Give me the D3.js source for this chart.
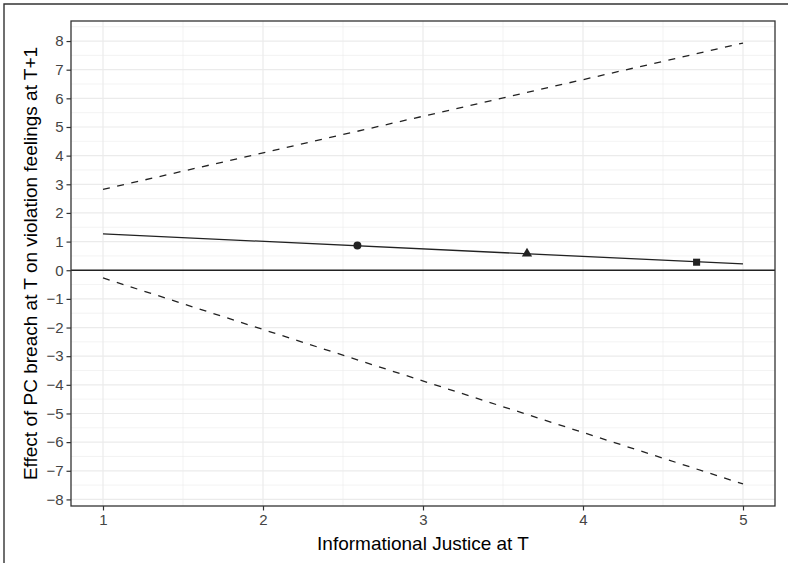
<!DOCTYPE html>
<html>
<head>
<meta charset="utf-8">
<script src="https://cdn.jsdelivr.net/npm/d3@7"></script>
<style>
  body { margin: 0; background: #fff; }
  svg { display: block; font-family: "Liberation Sans", Arial, Helvetica, sans-serif; }
</style>
</head>
<body>
<div id="chart"></div>
<script>
// Values
const justice = [1, 5];
const estimate = [1.27, 0.22];
const upperCI = [2.82, 7.93];
const lowerCI = [-0.27, -7.46];

const pointX = [2.59, 3.65, 4.71];
const pointY = [0.86, 0.58, 0.28];
const pointShape = ["circle", "triangle", "square"];

const xTicks = [1, 2, 3, 4, 5];
const yTicks = [-8, -7, -6, -5, -4, -3, -2, -1, 0, 1, 2, 3, 4, 5, 6, 7, 8];

const width = 788, height = 563;
const panel = { left: 71, top: 21, right: 775, bottom: 506 };

const svg = d3.select("#chart").append("svg")
    .attr("width", width)
    .attr("height", height);

// outer figure border (cropped on right and bottom)
svg.append("path")
    .attr("d", `M4,${height} L4,4 L${width},4`)
    .attr("fill", "none")
    .attr("stroke", "#333")
    .attr("stroke-width", 1.4);

// ggplot-like 5% expansion
const yMin = d3.min(lowerCI), yMax = d3.max(upperCI);
const yPad = (yMax - yMin) * 0.05;
const xMin = d3.min(justice), xMax = d3.max(justice);
const xPad = (xMax - xMin) * 0.05;

const x = d3.scaleLinear()
    .domain([xMin - xPad, xMax + xPad])
    .range([panel.left, panel.right]);

const y = d3.scaleLinear()
    .domain([yMin - yPad, yMax + yPad])
    .range([panel.bottom, panel.top]);

const grid = svg.append("g");

// minor grid
const xMinor = d3.range(xTicks[0] - 0.5, xTicks[xTicks.length - 1] + 1, 1)
    .filter(v => v > x.domain()[0] && v < x.domain()[1]);
const yMinor = d3.range(yTicks[0] - 0.5, yTicks[yTicks.length - 1] + 1, 1)
    .filter(v => v > y.domain()[0] && v < y.domain()[1]);

grid.selectAll(".xminor").data(xMinor).join("line")
    .attr("x1", d => x(d)).attr("x2", d => x(d))
    .attr("y1", panel.top).attr("y2", panel.bottom)
    .attr("stroke", "#EBEBEB").attr("stroke-width", 0.6);
grid.selectAll(".yminor").data(yMinor).join("line")
    .attr("y1", d => y(d)).attr("y2", d => y(d))
    .attr("x1", panel.left).attr("x2", panel.right)
    .attr("stroke", "#EBEBEB").attr("stroke-width", 0.6);

// major grid
grid.selectAll(".xmajor").data(xTicks).join("line")
    .attr("x1", d => x(d)).attr("x2", d => x(d))
    .attr("y1", panel.top).attr("y2", panel.bottom)
    .attr("stroke", "#EBEBEB").attr("stroke-width", 1.2);
grid.selectAll(".ymajor").data(yTicks).join("line")
    .attr("y1", d => y(d)).attr("y2", d => y(d))
    .attr("x1", panel.left).attr("x2", panel.right)
    .attr("stroke", "#EBEBEB").attr("stroke-width", 1.2);

// zero reference line
svg.append("line")
    .attr("x1", panel.left).attr("x2", panel.right)
    .attr("y1", y(0)).attr("y2", y(0))
    .attr("stroke", "#222").attr("stroke-width", 1.3);

const line = d3.line()
    .x((d, i) => x(justice[i]))
    .y(d => y(d));

svg.append("path")
    .datum(upperCI)
    .attr("d", line)
    .attr("fill", "none")
    .attr("stroke", "#222")
    .attr("stroke-width", 1.3)
    .attr("stroke-dasharray", "7,7.5");

svg.append("path")
    .datum(lowerCI)
    .attr("d", line)
    .attr("fill", "none")
    .attr("stroke", "#222")
    .attr("stroke-width", 1.3)
    .attr("stroke-dasharray", "7,7.5");

svg.append("path")
    .datum(estimate)
    .attr("d", line)
    .attr("fill", "none")
    .attr("stroke", "#222")
    .attr("stroke-width", 1.3);

// moderator points
const symbolType = { circle: d3.symbolCircle, triangle: d3.symbolTriangle, square: d3.symbolSquare };
svg.append("g")
    .selectAll("path")
    .data(pointX)
    .join("path")
    .attr("transform", (d, i) => `translate(${x(d)},${y(pointY[i])})`)
    .attr("d", (d, i) => d3.symbol().type(symbolType[pointShape[i]]).size(pointShape[i] === "triangle" ? 46 : 50)())
    .attr("fill", "#222");

// panel border
svg.append("rect")
    .attr("x", panel.left).attr("y", panel.top)
    .attr("width", panel.right - panel.left)
    .attr("height", panel.bottom - panel.top)
    .attr("fill", "none")
    .attr("stroke", "#333")
    .attr("stroke-width", 1.3);

// axes
const fmt = d => d < 0 ? "\u2212" + Math.abs(d) : String(d);

const xAxis = svg.append("g")
    .attr("transform", `translate(0,${panel.bottom})`)
    .call(d3.axisBottom(x).tickValues(xTicks).tickFormat(fmt).tickSize(4.5).tickPadding(3.5));
const yAxis = svg.append("g")
    .attr("transform", `translate(${panel.left},0)`)
    .call(d3.axisLeft(y).tickValues(yTicks).tickFormat(fmt).tickSize(4.5).tickPadding(3));

[xAxis, yAxis].forEach(a => {
    a.attr("font-size", 15).attr("font-family", "'Liberation Sans', Arial, sans-serif");
    a.select(".domain").remove();
    a.selectAll(".tick line").attr("stroke", "#333").attr("stroke-width", 1.2);
    a.selectAll(".tick text").attr("fill", "#444");
});

// titles
svg.append("text")
    .attr("x", (panel.left + panel.right) / 2)
    .attr("y", 550)
    .attr("text-anchor", "middle")
    .attr("font-size", 19)
    .attr("fill", "#000")
    .text("Informational Justice at T");

svg.append("text")
    .attr("transform", `translate(37,${(panel.top + panel.bottom) / 2}) rotate(-90)`)
    .attr("text-anchor", "middle")
    .attr("font-size", 19)
    .attr("fill", "#000")
    .text("Effect of PC breach at T on violation feelings at T+1");
</script>
</body>
</html>
